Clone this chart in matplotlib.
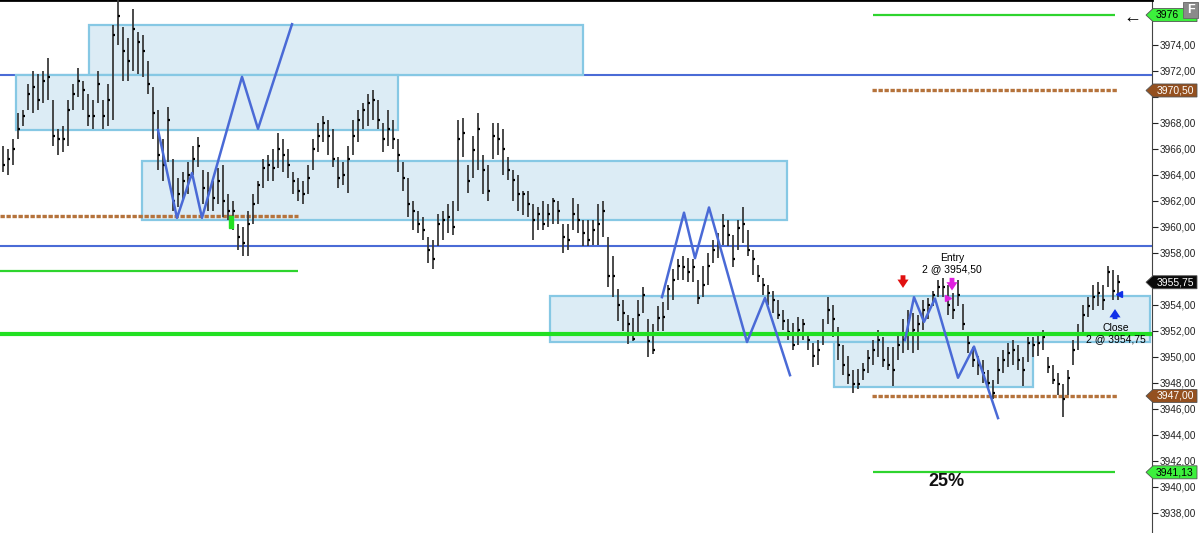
import numpy as np
import matplotlib.pyplot as plt
from matplotlib.patches import Rectangle, Polygon

plt.rcParams['font.family'] = ['Liberation Sans', 'DejaVu Sans']

# bar data (one bar per ~5 px)
highs = [
    3966.2, 3966, 3966.75, 3968.75, 3969, 3971, 3972, 3971.75, 3972, 3973,
    3969.75, 3967.5, 3967.75, 3969.75, 3971, 3972.25, 3971.25, 3970.25, 3969.75, 3972,
    3969.75, 3971, 3975.5, 3977.5, 3975.4, 3974.5, 3976.75, 3975, 3974.75, 3972.75,
    3970.75, 3969, 3966.75, 3969.25, 3965.25, 3963.75, 3964.25, 3965, 3966.25, 3966.9,
    3964.4, 3964.25, 3963.5, 3964.5, 3964.75, 3962.5, 3962, 3960.25, 3960, 3961.25,
    3962.5, 3963.5, 3965.25, 3965.5, 3966, 3967.25, 3966.75, 3966, 3964.25, 3963.75,
    3963.5, 3964.75, 3966.75, 3968, 3968.5, 3968.25, 3967.5, 3965.4, 3965, 3966.25,
    3968.25, 3969, 3969.5, 3970.25, 3970.5, 3969.75, 3968, 3969, 3968.25, 3966.75,
    3965, 3963.75, 3962, 3961.25, 3960.75, 3959.25, 3959, 3961, 3961.25, 3961.75,
    3962, 3968.25, 3968.4, 3964.75, 3967, 3968.75, 3965.5, 3964.75, 3968, 3968,
    3967.5, 3965.4, 3964.4, 3964, 3962.75, 3962.75, 3961.75, 3961.5, 3962, 3961.75,
    3962.25, 3962, 3960.25, 3960.25, 3962.25, 3961.75, 3960.5, 3960.5, 3960.5, 3961.75,
    3962, 3959.25, 3957.75, 3955.25, 3954.4, 3953.25, 3953, 3954.4, 3955.4, 3952.9,
    3952.5, 3953.9, 3954.25, 3955.5, 3956.75, 3957.5, 3957.75, 3957.6, 3957.5, 3955.9,
    3957, 3958, 3959, 3959.5, 3961, 3960.5, 3959.4, 3960.5, 3961.5, 3959.75,
    3958.25, 3957.1, 3956.1, 3955.5, 3955.1, 3954.4, 3953.6, 3952.9, 3952.6, 3953.1,
    3952.9, 3951.75, 3951.1, 3951.3, 3952.9, 3954.6, 3954, 3952.3, 3950.9, 3950.1,
    3949, 3949.1, 3949.5, 3950.5, 3951.3, 3952.1, 3951.5, 3950.75, 3950.75, 3951.9,
    3952.9, 3953.6, 3953.4, 3953.25, 3954.4, 3954.5, 3955.1, 3955.9, 3956.1, 3955.5,
    3954.9, 3955.9, 3954.1, 3951.9, 3950.75, 3950.1, 3949.75, 3949, 3948.25, 3950,
    3950.5, 3951.1, 3951.3, 3950.9, 3950, 3951.5, 3951.5, 3951.9, 3952.1, 3950,
    3949.4, 3948.75, 3947.9, 3949, 3951.3, 3952.5, 3954, 3954.6, 3955.5, 3955.75,
    3955.5, 3957, 3956.7, 3956.3]

lows = [
    3964.2, 3964, 3964.75, 3966.75, 3967.75, 3969, 3968.75, 3969, 3969.5, 3969.75,
    3966.25, 3965.5, 3965.75, 3966.25, 3969, 3970, 3969, 3967.75, 3967.5, 3969.5,
    3967.5, 3967.75, 3968.25, 3974, 3971.25, 3971.25, 3972, 3971.75, 3971.5, 3970.25,
    3966.75, 3964.4, 3963.5, 3965, 3961.25, 3961.5, 3962, 3962.5, 3964, 3964.6,
    3961.75, 3961.25, 3961.25, 3961.75, 3960.75, 3960.5, 3959.75, 3958.25, 3957.75, 3957.75,
    3960.25, 3961.75, 3963, 3963.5, 3963.5, 3964.5, 3964.25, 3963.75, 3962.5, 3962,
    3961.75, 3962.5, 3964.4, 3965.75, 3966.5, 3965.5, 3964.6, 3963, 3963.25, 3962.6,
    3965.5, 3966.5, 3967.5, 3967.75, 3968.25, 3967.5, 3965.75, 3966.25, 3966, 3964.25,
    3962.75, 3960.75, 3959.75, 3959.5, 3959, 3957.25, 3956.75, 3958.5, 3959, 3959.5,
    3959.4, 3961.25, 3965.4, 3962.6, 3963.75, 3964.4, 3962.5, 3962, 3965.25, 3965.5,
    3964, 3963.6, 3962, 3961.25, 3960.9, 3960.75, 3959, 3959.75, 3959.75, 3960,
    3960.25, 3960.25, 3958, 3958.25, 3959.75, 3959.5, 3958.5, 3958.5, 3958.6, 3958.6,
    3959.25, 3955.4, 3954.6, 3952.75, 3952, 3951, 3951.25, 3951.9, 3953.4, 3950,
    3950.25, 3952, 3952, 3953.6, 3954.4, 3955.9, 3955.9, 3955.75, 3955.75, 3954.1,
    3954.6, 3955.5, 3957.25, 3957.6, 3958.6, 3958.5, 3956.9, 3958.25, 3958.75, 3957.75,
    3956.3, 3955.75, 3954.75, 3954, 3953.4, 3952.9, 3952.1, 3951.3, 3950.5, 3950.9,
    3951.3, 3950.5, 3949.25, 3949.4, 3950.9, 3952.5, 3951.5, 3949.75, 3948.6, 3947.9,
    3947.25, 3947.5, 3948.25, 3948.75, 3949.4, 3950, 3949.25, 3949, 3947.75, 3949.75,
    3950.3, 3950.5, 3950.3, 3950.5, 3952.1, 3952.9, 3953.9, 3954.6, 3954.6, 3953.25,
    3952.9, 3953.9, 3952.1, 3950.3, 3949.25, 3948.6, 3948, 3947.5, 3946.75, 3947.9,
    3948.75, 3949.25, 3949.4, 3949, 3947.75, 3949.6, 3950, 3950.1, 3950.5, 3948.75,
    3947.9, 3947.1, 3945.4, 3947.1, 3949.4, 3950.5, 3951.75, 3953.1, 3953.6, 3953.9,
    3953.6, 3955.4, 3954.4, 3954.4]

closes = [
    3964.75, 3965.25, 3966, 3967.5, 3968.5, 3970.25, 3970.75, 3969.75, 3971.25, 3971.5,
    3967, 3966.75, 3966.75, 3969, 3970.25, 3971.25, 3970.5, 3968.5, 3968.5, 3971,
    3968.5, 3969.75, 3974.75, 3976.25, 3973.5, 3972.75, 3975.25, 3974.25, 3973.5, 3971,
    3968.75, 3965.5, 3964.75, 3968.25, 3962, 3962.5, 3963.5, 3964, 3965.25, 3966.25,
    3963, 3962.75, 3962.25, 3963.5, 3962, 3961.25, 3961.25, 3959.25, 3958.75, 3960.25,
    3961.75, 3963.25, 3964.5, 3964.75, 3964.5, 3966, 3965.5, 3964.75, 3963.5, 3962.75,
    3962.5, 3963.75, 3966, 3967, 3968, 3967, 3965.25, 3963.75, 3964, 3965.25,
    3967, 3968.25, 3969, 3969.5, 3969.75, 3968.25, 3966.75, 3967.5, 3966.75, 3965.5,
    3963.75, 3961.75, 3961.25, 3960.25, 3959.75, 3958.25, 3957.5, 3960.25, 3960.5, 3960.75,
    3960, 3966.75, 3967.25, 3963.5, 3965.9, 3967.5, 3964.4, 3962.75, 3967, 3966.75,
    3966, 3964.4, 3963.6, 3962.5, 3962.5, 3961.75, 3960.5, 3961, 3960.25, 3961,
    3962, 3961.25, 3959.25, 3959, 3961, 3960.5, 3959.5, 3959, 3959.75, 3960.25,
    3961.25, 3956.25, 3956.25, 3954, 3953.4, 3952.5, 3951.4, 3953.25, 3954.75, 3951.25,
    3950.5, 3953, 3953.1, 3955.25, 3955.9, 3957, 3956.9, 3956.5, 3956.9, 3954.5,
    3955.5, 3957, 3958.25, 3958.75, 3960.1, 3959.4, 3957.5, 3959.9, 3960.25, 3958.25,
    3957.5, 3956.25, 3955.5, 3954.9, 3954.4, 3953.25, 3952.75, 3951.9, 3950.9, 3952.1,
    3952.5, 3951.3, 3950.1, 3950.5, 3951.75, 3953.6, 3952.9, 3950.9, 3949.4, 3948.6,
    3947.9, 3947.9, 3949, 3949.9, 3950.5, 3951.3, 3949.75, 3949.4, 3949, 3950.9,
    3951.3, 3952.9, 3952.1, 3952.5, 3953.6, 3954, 3954.75, 3955.4, 3955.4, 3954,
    3953.6, 3954.75, 3952.5, 3951.1, 3949.75, 3949.4, 3948.75, 3948, 3947.25, 3949,
    3949.75, 3950.3, 3950.5, 3949.75, 3949, 3951.1, 3950.9, 3951.1, 3951.5, 3949.25,
    3948.25, 3947.9, 3946.75, 3948.4, 3950.5, 3951.75, 3953.25, 3953.9, 3954.6, 3954.9,
    3954.4, 3956.5, 3955.1, 3955.75]

# zones: (start bar, end bar, top, bottom)
zones = [
    (17.3, 116.1, 3975.55, 3971.7),
    (2.7, 79.1, 3971.7, 3967.45),
    (27.9, 156.9, 3965.1, 3960.55),
    (109.5, 229.5, 3954.7, 3951.15),
    (166.3, 206.1, 3951.15, 3947.7),
]

# projection zigzags (bar, price)
zig_a = [(31.1, 3967.46), (34.9, 3960.7), (37.9, 3964.15), (39.9, 3960.7),
         (47.9, 3971.55), (51.1, 3967.55), (57.9, 3975.6)]
zig_b = [(131.9, 3954.6), (136.3, 3961.1), (138.5, 3957.6), (141.3, 3961.5),
         (148.9, 3951.15), (152.5, 3954.55), (157.5, 3948.6)]
zig_c = [(180.5, 3951.3), (182.3, 3954.6), (184.3, 3952.7), (186.5, 3954.5),
         (191.1, 3948.4), (194.3, 3950.8), (199.1, 3945.3)]

blue_levels = [3971.7, 3958.5]
main_green = 3951.75
short_green = [(3956.6, -0.5, 59.1), (3976.3, 174.1, 222.5), (3941.13, 174.1, 222.5)]
brown_dotted = [(3960.85, -0.5, 59.1), (3970.5, 173.9, 222.9), (3947.0, 173.9, 222.9)]

# right-side price flags: (price, text, face, text colour)
flags = [
    (3976.3, '3976', '#3cf03c', 'black'),
    (3970.5, '3970,50', '#94501f', 'white'),
    (3955.75, '3955,75', '#0a0a0a', 'white'),
    (3947.0, '3947,00', '#94501f', 'white'),
    (3941.13, '3941,13', '#3cf03c', 'black'),
]

price_ticks = np.arange(3938, 3975, 2)
hidden_ticks = [3956, 3970]   # covered by the flags

fig = plt.figure(figsize=(12, 5.33), dpi=100)
ax = fig.add_axes([0, 0, 1152 / 1200, 1])
ax.set_xlim(-0.5, 229.9)
ax.set_ylim(3936.46, 3977.46)

for x0, x1, top, bot in zones:
    ax.add_patch(Rectangle((x0, bot), x1 - x0, top - bot, facecolor='#dcecf5',
                           edgecolor='#86c8e4', lw=1.6, zorder=1))

for lvl in blue_levels:
    ax.axhline(lvl, color='#4a6bd6', lw=1.5, zorder=0.5)
ax.axhline(main_green, color='#22e022', lw=3, zorder=4)
for lvl, x0, x1 in short_green:
    ax.hlines(lvl, x0, x1, color='#2ed42e', lw=1.6, zorder=2)
for lvl, x0, x1 in brown_dotted:
    ax.hlines(lvl, x0, x1, color='#b5733c', lw=2.4, linestyles=(0, (1.3, 0.5)), zorder=2)

xs = np.arange(len(highs))
ax.vlines(xs, lows, highs, color='#3a3a3a', lw=1.3, zorder=3)
ax.hlines(closes, xs, xs + 0.55, color='black', lw=1.6, zorder=3)

for zz in (zig_a, zig_b, zig_c):
    px, py = zip(*zz)
    ax.plot(px, py, color='#4a6ad6', lw=1.8, zorder=5)

# trade markers
ax.add_patch(Rectangle((45.3, 3959.9), 0.8, 0.95, color='#22e022', zorder=6))
arrow = 'simple,head_width=0.8,head_length=0.6,tail_width=0.35'
ax.annotate('', xy=(180.1, 3955.1), xytext=(180.1, 3956.5),
            arrowprops=dict(arrowstyle=arrow, color='#e01010', lw=0), zorder=7)
ax.annotate('', xy=(189.9, 3954.9), xytext=(189.9, 3956.3),
            arrowprops=dict(arrowstyle=arrow, color='#e020e0', lw=0), zorder=7)
ax.annotate('', xy=(222.5, 3953.9), xytext=(222.5, 3952.7),
            arrowprops=dict(arrowstyle=arrow, color='#1030e8', lw=0), zorder=7)
ax.plot(189.1, 3954.55, marker='>', color='#e020e0', ms=4, zorder=7)
ax.plot(223.2, 3954.85, marker='<', color='#1030e8', ms=4, zorder=7)

ax.text(189.9, 3957.6, 'Entry', fontsize=7.5, ha='center', va='center', zorder=8)
ax.text(189.9, 3956.75, '2 @ 3954,50', fontsize=7.5, ha='center', va='center', zorder=8)
ax.text(222.7, 3952.25, 'Close', fontsize=7.5, ha='center', va='center', zorder=8)
ax.text(222.7, 3951.4, '2 @ 3954,75', fontsize=7.5, ha='center', va='center', zorder=8)
ax.text(188.7, 3940.45, '25%', fontsize=13, fontweight='bold', ha='center',
        va='center', color='#111111', zorder=8)

# right price axis
ax.yaxis.tick_right()
ax.set_yticks(price_ticks)
ax.set_yticklabels(['' if t in hidden_ticks else f'{t:.2f}'.replace('.', ',')
                    for t in price_ticks])
ax.tick_params(axis='y', direction='out', length=4, width=0.8, labelsize=7.2,
               pad=1.5, colors='#222222')
ax.set_xticks([])
for side in ('left', 'bottom'):
    ax.spines[side].set_visible(False)
ax.spines['right'].set_color('#444444')
ax.spines['top'].set_color('black')
ax.spines['top'].set_linewidth(2)

ytr = ax.get_yaxis_transform()
for price, label, face, tc in flags:
    pts = [(1146 / 1152, price), (1153 / 1152, price + 0.5), (1197 / 1152, price + 0.5),
           (1197 / 1152, price - 0.5), (1153 / 1152, price - 0.5)]
    ax.add_patch(Polygon(pts, closed=True, transform=ytr, facecolor=face,
                         edgecolor='#555555', lw=0.6, clip_on=False, zorder=10))
    tx = 1167 / 1152 if label == '3976' else 1175 / 1152
    ax.text(tx, price, label, transform=ytr, fontsize=7.5, color=tc,
            ha='center', va='center', clip_on=False, zorder=11)

# small "F" button and arrow in the top right corner
fig.add_artist(Rectangle((1183 / 1200, 1 - 18 / 533), 15 / 1200, 16 / 533,
                         transform=fig.transFigure, facecolor='#8a8a8a',
                         edgecolor='#666666', lw=0.6, zorder=12))
fig.text(1190.5 / 1200, 1 - 10 / 533, 'F', color='white', fontsize=9,
         fontweight='bold', ha='center', va='center', zorder=13)
fig.text(1132 / 1200, 1 - 18 / 533, '←', fontsize=13, ha='center', va='center')

fig.savefig('out.png', dpi=100)
